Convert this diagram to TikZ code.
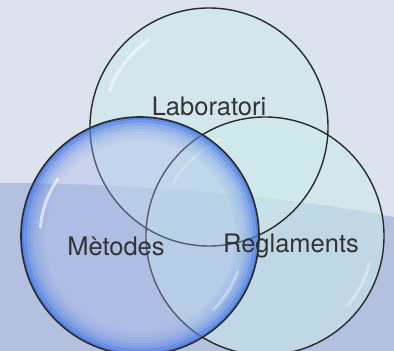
\documentclass[tikz,border=0pt]{standalone}
\usepackage{fontspec}
\setmainfont{TeX Gyre Heros}
\definecolor{bgtop}{HTML}{DDE2EF}
\definecolor{bgband}{HTML}{B3C1DF}
\definecolor{aqua}{HTML}{CCEAEA}
\definecolor{rimblue}{HTML}{3F74E6}
\definecolor{innerblue}{HTML}{A6B8EC}
\definecolor{outline}{HTML}{2A2A2A}
\definecolor{txt}{HTML}{333333}
\tikzset{
  bubble/.style={circle, minimum size=238pt, inner sep=0pt},
  aquafill/.style={fill=aqua, fill opacity=0.55},
  ringline/.style={draw=outline, line width=1.4pt},
  shine/.style={white, line width=3pt, line cap=round, opacity=0.5},
  lbl/.style={font=\fontsize{25.5}{28}\selectfont, text=txt, inner sep=0pt}
}
\begin{document}
\begin{tikzpicture}[x=1pt,y=-1pt]
\useasboundingbox (0,0) rectangle (394,351);
% background
\fill[bgtop] (0,0) rectangle (394,351);
\fill[bgband] (0,183) .. controls (130,183) and (280,195) .. (394,217) -- (394,351) -- (0,351) -- cycle;

% circles as nodes
\node[bubble] (lab) at (209,127) {};
\node[bubble] (reg) at (265,236) {};
\node[bubble] (met) at (140,236) {};

% top circle
\fill[aquafill] (lab.center) circle[radius=119pt];
\draw[shine] ([shift={(125:106pt)}]lab.center) arc[start angle=125, end angle=160, radius=106pt];
% right circle
\fill[aquafill] (reg.center) circle[radius=119pt];
\draw[shine] ([shift={(115:106pt)}]reg.center) arc[start angle=115, end angle=150, radius=106pt];
\draw[shine, opacity=0.35] ([shift={(-40:108pt)}]reg.center) arc[start angle=-40, end angle=-15, radius=108pt];
\draw[ringline] (lab.center) circle[radius=119pt];
\draw[ringline] (reg.center) circle[radius=119pt];

% blue circle
\fill[innerblue, fill opacity=0.35] (met.center) circle[radius=119pt];
\begin{scope}
  \clip (met.center) circle[radius=119pt];
  \foreach \r/\o in {118/0.8,115/0.6,112/0.42,109/0.3,106/0.2,103/0.13,100/0.08,97/0.05}{
    \draw[rimblue, line width=3.2pt, opacity=\o] (met.center) circle[radius=\r pt];
  }
\end{scope}
\draw[shine, opacity=0.6] ([shift={(145:100pt)}]met.center) arc[start angle=145, end angle=175, radius=100pt];
\draw[shine, opacity=0.35] ([shift={(-45:104pt)}]met.center) arc[start angle=-45, end angle=-20, radius=104pt];
\draw[draw=outline, line width=1.6pt] (met.center) circle[radius=119pt];

% labels
\node[lbl] (tlab) at (209,106) {Laboratori};
\node[lbl] (tmet) at (116,246) {Mètodes};
\node[lbl] (treg) at (291,246) {Reglaments};
\end{tikzpicture}
\end{document}
